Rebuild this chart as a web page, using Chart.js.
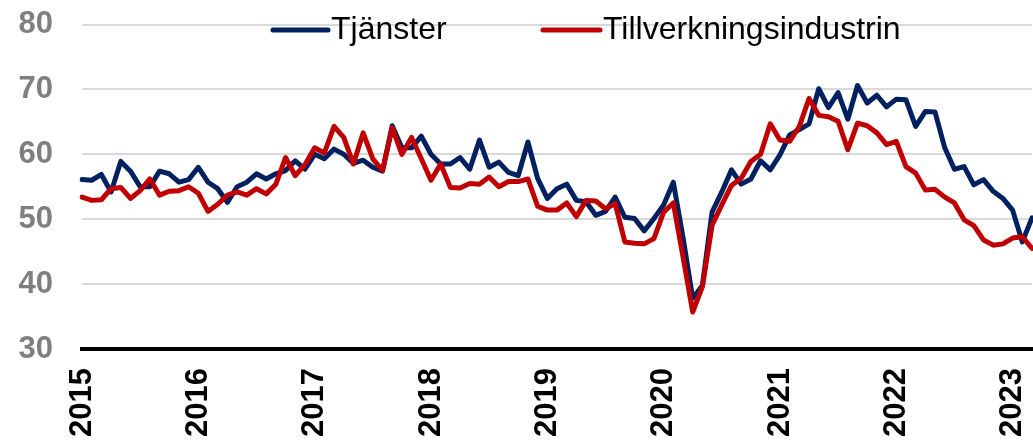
<!DOCTYPE html>
<html>
<head>
<meta charset="utf-8">
<script src="https://cdn.jsdelivr.net/npm/chart.js"></script>
<style>
  html, body { margin: 0; padding: 0; background: #fff; }
  #wrap { width: 1033px; height: 440px; }
</style>
</head>
<body>
<div id="wrap"><canvas id="myChart" width="1033" height="440"></canvas></div>
<script>
// monthly index, Jan 2015 - Mar 2023
const years = ['2015', '2016', '2017', '2018', '2019', '2020', '2021', '2022', '2023'];

const tjanster = [
  56.1, 56.0, 56.9, 54.2, 58.9, 57.4, 55.0, 55.0, 57.4, 57.0, 55.7, 56.1,
  58.0, 55.7, 54.7, 52.6, 55.0, 55.7, 57.0, 56.2, 57.0, 57.5, 59.0, 57.7,
  60.0, 59.3, 60.8, 60.0, 58.6, 59.1, 58.0, 57.4, 64.4, 61.0, 61.0, 62.8,
  60.0, 58.5, 58.5, 59.5, 57.7, 62.2, 58.0, 58.8, 57.2, 56.7, 61.9, 56.3,
  53.2, 54.7, 55.4, 52.9, 52.7, 50.6, 51.2, 53.4, 50.3, 50.1, 48.2, 50.1,
  52.2, 55.7, 47.2, 37.8, 39.8, 51.1, 54.2, 57.6, 55.4, 56.2, 59.0, 57.6,
  59.9, 63.0, 63.8, 64.7, 70.1, 67.2, 69.5, 65.4, 70.6, 67.9, 69.1, 67.3,
  68.5, 68.4, 64.3, 66.6, 66.5, 61.0, 57.7, 58.1, 55.3, 56.1, 54.3, 53.2,
  51.4, 46.5, 50.2
];

const tillverkning = [
  53.4, 52.9, 53.0, 54.7, 54.9, 53.2, 54.4, 56.2, 53.7, 54.3, 54.4, 55.0,
  54.0, 51.2, 52.3, 53.7, 54.2, 53.7, 54.7, 53.9, 55.4, 59.5, 56.7, 58.4,
  61.0, 60.2, 64.3, 62.6, 58.5, 63.3, 59.3, 57.5, 64.1, 60.0, 62.6, 59.3,
  56.0, 58.5, 54.9, 54.8, 55.5, 55.4, 56.5, 55.0, 55.8, 55.8, 56.2, 52.0,
  51.4, 51.4, 52.5, 50.4, 52.9, 52.8, 51.6, 52.4, 46.5, 46.3, 46.2, 47.0,
  51.1, 52.5, 44.2, 35.7, 39.6, 49.1, 52.2, 55.2, 56.3, 58.9, 60.0, 64.7,
  62.2, 62.0, 64.3, 68.6, 66.0, 65.8, 65.1, 60.7, 64.8, 64.4, 63.3, 61.5,
  62.0, 58.1, 57.1, 54.5, 54.6, 53.4, 52.5, 49.9, 49.0, 46.8, 46.0, 46.2,
  47.1, 47.3, 45.5
];

const seriesNames = ['Tjänster', 'Tillverkningsindustrin'];
const seriesColors = ['#002060', '#C00000'];
const yTicks = [30, 40, 50, 60, 70, 80];

const fontFam = '"Liberation Sans", Arial, sans-serif';

const labels = [];
years.forEach(y => {
  for (let m = 1; m <= 12; m++) {
    if (labels.length < tjanster.length) labels.push(y + '-' + m);
  }
});

// legend drawn by hand so it can sit over the top gridline like the original
const legendSpots = [{ x: 273, w: 55 }, { x: 543, w: 57 }];
const drawnLegend = {
  id: 'drawnLegend',
  afterDraw(chart) {
    const ctx = chart.ctx;
    ctx.save();
    chart.data.datasets.forEach((ds, i) => {
      const p = legendSpots[i];
      ctx.strokeStyle = ds.borderColor;
      ctx.lineWidth = 5;
      ctx.lineCap = 'round';
      ctx.beginPath();
      ctx.moveTo(p.x, 30);
      ctx.lineTo(p.x + p.w, 30);
      ctx.stroke();
      ctx.fillStyle = '#000';
      ctx.font = '32px ' + fontFam;
      ctx.textBaseline = 'alphabetic';
      ctx.fillText(ds.label, p.x + p.w + 3, 39);
    });
    ctx.restore();
  }
};

const cxt = document.getElementById('myChart').getContext('2d');
const myChart = new Chart(cxt, {
  type: 'line',
  data: {
    labels: labels,
    datasets: [
      { label: seriesNames[0], data: tjanster, borderColor: seriesColors[0], order: 1 },
      { label: seriesNames[1], data: tillverkning, borderColor: seriesColors[1], order: 0 }
    ]
  },
  options: {
    responsive: false,
    animation: false,
    layout: { padding: { left: 18, top: 24.5, right: 1, bottom: 0 }, autoPadding: false },
    elements: {
      point: { radius: 0 },
      line: { borderWidth: 5, tension: 0, borderJoinStyle: 'round', borderCapStyle: 'round', fill: false }
    },
    plugins: {
      legend: { display: false },
      tooltip: { enabled: false }
    },
    scales: {
      x: {
        type: 'category',
        grid: { display: false, drawTicks: false },
        border: { display: true, color: '#000', width: 4 },
        afterFit: s => { s.paddingLeft = 0; s.paddingRight = 0; s.height = 91; },
        ticks: {
          autoSkip: false,
          minRotation: 90,
          maxRotation: 90,
          padding: 19,
          color: '#000',
          font: { family: fontFam, size: 31, weight: 'bold' },
          callback: function (v, i) {
            return i % 12 === 0 ? years[i / 12] : null;
          }
        }
      },
      y: {
        min: yTicks[0],
        max: yTicks[yTicks.length - 1],
        afterBuildTicks: axis => { axis.ticks = yTicks.map(v => ({ value: v })); },
        afterFit: s => { s.paddingTop = 0; s.paddingBottom = 0; s.width = 64; },
        grid: { color: '#d9d9d9', lineWidth: 2, drawTicks: false },
        border: { display: false },
        ticks: {
          padding: 29,
          color: '#7f7f7f',
          font: { family: fontFam, size: 31, weight: 'bold' }
        }
      }
    }
  },
  plugins: [drawnLegend]
});
</script>
</body>
</html>
